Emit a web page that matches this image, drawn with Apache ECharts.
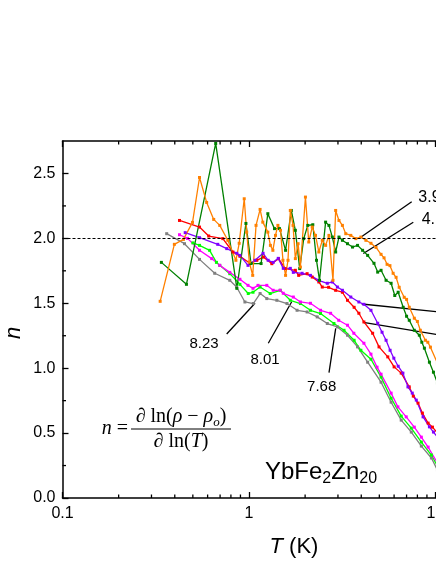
<!DOCTYPE html>
<html>
<head>
<meta charset="utf-8">
<script src="https://cdn.jsdelivr.net/npm/echarts@6/dist/echarts.min.js"></script>
<style>
html, body { margin: 0; padding: 0; background: #fff; }
#chart { width: 436px; height: 564px; }
</style>
</head>
<body>
<div id="chart"></div>
<script>
// temperature T (K) and exponent n, one pair of arrays per curve
var tOrange = [0.334,0.398,0.445,0.498,0.543,0.593,0.647,0.697,0.770,0.851,0.886,0.943,0.972,1.004,1.047,1.091,1.147,1.186,1.262,1.303,1.343,1.387,1.429,1.476,1.521,1.571,1.619,1.666,1.723,1.773,1.834,1.887,2.008,2.092,2.183,2.274,2.369,2.472,2.576,2.684,2.821,2.916,3.038,3.170,3.303,3.515,3.741,3.981,4.236,4.509,4.800,5.107,5.300,5.502,5.700,5.929,6.150,6.389,6.798,7.000,7.236,7.701,8.000,8.297,8.831,9.100,9.397,10.25];
var nOrange = [1.515,1.954,1.992,2.123,2.469,2.277,2.146,2.100,1.985,1.831,1.962,2.305,2.048,1.818,1.715,2.100,2.223,2.125,2.048,1.946,1.908,2.023,2.100,2.062,1.831,1.715,1.831,2.215,2.100,1.844,1.959,1.779,2.318,1.972,2.087,2.023,1.895,1.985,1.946,2.023,1.677,2.215,2.138,2.100,2.036,2.023,1.998,2.010,1.985,1.962,1.930,1.877,1.850,1.800,1.790,1.731,1.700,1.623,1.546,1.530,1.469,1.385,1.360,1.292,1.215,1.200,1.162,1.038];

var tGreen = [0.339,0.462,0.663,0.861,0.963,1.025,1.161,1.262,1.370,1.458,1.571,1.687,1.773,1.870,1.966,2.066,2.199,2.302,2.389,2.576,2.684,2.799,2.916,3.038,3.170,3.374,3.591,3.821,4.067,4.328,4.681,4.900,5.107,5.434,5.783,6.050,6.310,6.714,7.000,7.236,7.701,8.195,8.450,8.722,9.281,9.754,10.25];
var nGreen = [1.815,1.646,2.731,1.615,2.115,1.806,1.806,2.190,2.075,2.075,1.908,2.215,2.062,1.767,1.998,2.100,2.105,1.831,1.677,2.125,2.100,2.010,1.895,2.010,1.985,1.959,1.933,1.946,1.908,1.869,1.808,1.740,1.754,1.677,1.654,1.560,1.585,1.469,1.400,1.369,1.292,1.254,1.200,1.154,1.046,0.969,0.885];

var tPurple = [0.455,0.543,0.680,0.760,0.861,0.894,0.988,1.077,1.190,1.267,1.348,1.435,1.527,1.666,1.729,1.927,2.136,2.360,2.630,2.799,2.980,3.170,3.515,3.884,4.133,4.509,4.901,5.171,5.434,5.711,5.981,6.310,6.689,7.119,7.509,7.892,8.582,9.281,9.754,10.25];
var nPurple = [2.044,2.005,1.954,1.921,1.885,1.869,1.792,1.831,1.885,1.831,1.815,1.846,1.769,1.769,1.738,1.731,1.715,1.677,1.654,1.664,1.625,1.600,1.548,1.510,1.492,1.446,1.346,1.277,1.215,1.138,1.077,1.015,0.962,0.856,0.808,0.754,0.625,0.548,0.508,0.469];

var tRed = [0.424,0.543,0.608,0.724,0.820,0.894,1.012,1.101,1.195,1.326,1.440,1.565,1.773,1.847,2.050,2.183,2.369,2.472,2.673,2.916,3.170,3.374,3.663,3.884,4.133,4.604,4.981,5.550,6.003,6.551,7.236,7.606,8.064,8.507,9.131,9.634,10.25];
var nRed = [2.138,2.087,2.018,1.998,1.895,1.862,1.808,1.831,1.856,1.805,1.844,1.767,1.754,1.715,1.728,1.702,1.664,1.625,1.623,1.600,1.585,1.523,1.469,1.423,1.356,1.269,1.164,1.087,1.010,0.962,0.856,0.785,0.731,0.654,0.577,0.546,0.500];

var tMagenta = [0.424,0.468,0.543,0.631,0.697,0.789,0.894,0.988,1.051,1.118,1.246,1.348,1.470,1.527,1.729,1.887,2.136,2.420,2.740,3.028,3.374,3.650,4.133,4.509,4.859,5.107,5.783,6.287,6.969,7.700,8.400,9.131,10.25];
var nMagenta = [2.028,2.000,1.908,1.844,1.792,1.738,1.685,1.638,1.615,1.638,1.638,1.600,1.600,1.577,1.548,1.510,1.500,1.446,1.423,1.369,1.331,1.269,1.192,1.108,1.008,0.954,0.808,0.702,0.625,0.546,0.469,0.392,0.269];

var tLime = [0.500,0.543,0.615,0.669,0.697,0.789,0.894,0.991,1.051,1.147,1.299,1.470,1.666,1.887,2.136,2.420,2.855,3.233,3.663,3.981,4.509,5.107,5.783,6.551,7.420,8.400,9.510,10.25];
var nLime = [1.965,1.946,1.908,1.815,1.792,1.728,1.646,1.575,1.585,1.625,1.575,1.600,1.523,1.498,1.446,1.421,1.344,1.292,1.215,1.138,1.069,0.931,0.769,0.631,0.538,0.431,0.331,0.246];

var tGray = [0.362,0.451,0.543,0.655,0.789,0.858,0.951,1.055,1.147,1.246,1.411,1.599,1.811,2.050,2.322,2.630,2.980,3.374,3.821,4.328,5.107,5.783,6.551,7.420,8.400,9.510,10.25];
var nGray = [2.036,1.959,1.838,1.731,1.677,1.625,1.510,1.498,1.575,1.536,1.523,1.498,1.446,1.433,1.395,1.344,1.318,1.254,1.164,1.046,0.892,0.738,0.600,0.508,0.400,0.308,0.215];

var xMinorTicks = [0.2,0.3,0.4,0.5,0.6,0.7,0.8,0.9,2,3,4,5,6,7,8,9];
var yMinorTicks = [0.25,0.75,1.25,1.75,2.25];
var refLevel = 2;
var curveLabels = ['3.96', '4.16', '8.23', '8.01', '7.68'];

var SANS = 'Liberation Sans, Arial, sans-serif';
var SERIF = 'Liberation Serif, Times New Roman, serif';

function pairs(t, n) {
  return t.map(function (v, i) { return [v, n[i]]; });
}

function curve(name, color, t, n) {
  return {
    name: name,
    type: 'line',
    data: pairs(t, n),
    symbol: 'rect',
    symbolSize: 3,
    showSymbol: true,
    lineStyle: { color: color, width: 1.3 },
    itemStyle: { color: color },
    clip: true,
    silent: true
  };
}

function tickLine(x1, y1, x2, y2) {
  return { type: 'line', shape: { x1: x1, y1: y1, x2: x2, y2: y2 }, style: { stroke: '#000', lineWidth: 1.3 } };
}

var series = [
  curve('gray', '#808080', tGray, nGray),
  curve('lime', '#00FF00', tLime, nLime),
  curve('magenta', '#FF00FF', tMagenta, nMagenta),
  curve('red', '#FF0000', tRed, nRed),
  curve('purple', '#8000FF', tPurple, nPurple),
  curve('green', '#008000', tGreen, nGreen),
  curve('orange', '#FF8000', tOrange, nOrange),
  {
    // log minor ticks on bottom and top axes
    type: 'custom',
    silent: true,
    data: xMinorTicks.map(function (v) { return [v, 1]; }),
    renderItem: function (params, api) {
      var cs = params.coordSys;
      var x = api.coord([api.value(0), 1])[0];
      return { type: 'group', children: [
        tickLine(x, cs.y + cs.height, x, cs.y + cs.height - 3.5),
        tickLine(x, cs.y, x, cs.y + 3.5)
      ] };
    }
  },
  {
    // minor ticks on the n axis
    type: 'custom',
    silent: true,
    data: yMinorTicks.map(function (v) { return [1, v]; }),
    renderItem: function (params, api) {
      var cs = params.coordSys;
      var y = api.coord([1, api.value(1)])[1];
      return tickLine(cs.x, y, cs.x + 3.5, y);
    }
  }
];

// dashed n = 2 reference line
series[0].markLine = {
  silent: true,
  symbol: 'none',
  label: { show: false },
  lineStyle: { color: '#000', type: [3, 2], width: 1 },
  data: [{ yAxis: refLevel }]
};

var axisCommon = {
  type: 'log',
  logBase: 10,
  min: 0.1,
  max: 20,
  axisLine: { show: true, lineStyle: { color: '#000', width: 1.5 } },
  axisTick: { show: true, inside: true, length: 6, lineStyle: { color: '#000', width: 1.3 } },
  splitLine: { show: false }
};

var option = {
  animation: false,
  backgroundColor: '#fff',
  grid: { left: 62.5, top: 141, bottom: 66, right: -55.6, containLabel: false, outerBoundsMode: 'none' },
  xAxis: [
    Object.assign({}, axisCommon, {
      position: 'bottom',
      axisLabel: {
        color: '#000', fontSize: 16, fontFamily: SANS, margin: 8,
        formatter: function (v) { return String(+v.toPrecision(3)); }
      }
    }),
    Object.assign({}, axisCommon, {
      position: 'top',
      axisLabel: { show: false }
    })
  ],
  yAxis: {
    type: 'value',
    min: 0,
    max: 2.75,
    interval: 0.5,
    axisLine: { show: true, lineStyle: { color: '#000', width: 1.5 } },
    axisTick: { show: true, inside: true, length: 6, lineStyle: { color: '#000', width: 1.3 } },
    splitLine: { show: false },
    axisLabel: {
      color: '#000', fontSize: 16, fontFamily: SANS, margin: 7, showMaxLabel: false,
      formatter: function (v) {
        return Math.abs(v / 0.5 - Math.round(v / 0.5)) > 1e-6 ? '' : v.toFixed(1);
      }
    }
  },
  series: series,
  graphic: [
    // axis titles
    { type: 'text', x: 13.5, y: 333, rotation: Math.PI / 2,
      style: { text: 'n', fontSize: 22, fontStyle: 'italic', fontFamily: SANS, fill: '#000', align: 'center', verticalAlign: 'middle' } },
    { type: 'text', x: 294, y: 547,
      style: { text: '{i|T} (K)', fontSize: 22, fontFamily: SANS, fill: '#000', align: 'center', verticalAlign: 'middle',
        rich: { i: { fontSize: 22, fontStyle: 'italic', fontFamily: SANS } } } },

    // curve labels and leader lines
    { type: 'text', x: 418.3, y: 198, style: { text: curveLabels[0], fontSize: 16, fontFamily: SANS, fill: '#000', align: 'left', verticalAlign: 'middle' } },
    { type: 'text', x: 421.7, y: 219.5, style: { text: curveLabels[1], fontSize: 16, fontFamily: SANS, fill: '#000', align: 'left', verticalAlign: 'middle' } },
    { type: 'text', x: 204, y: 344, style: { text: curveLabels[2], fontSize: 15, fontFamily: SANS, fill: '#000', align: 'center', verticalAlign: 'middle' } },
    { type: 'text', x: 265, y: 359.7, style: { text: curveLabels[3], fontSize: 15, fontFamily: SANS, fill: '#000', align: 'center', verticalAlign: 'middle' } },
    { type: 'text', x: 321.7, y: 386.7, style: { text: curveLabels[4], fontSize: 15, fontFamily: SANS, fill: '#000', align: 'center', verticalAlign: 'middle' } },
    { type: 'line', shape: { x1: 411.7, y1: 201.7, x2: 359.3, y2: 238.3 }, style: { stroke: '#000', lineWidth: 1.3 } },
    { type: 'line', shape: { x1: 413.3, y1: 222.2, x2: 363.3, y2: 253.5 }, style: { stroke: '#000', lineWidth: 1.3 } },
    { type: 'line', shape: { x1: 361.7, y1: 304, x2: 500, y2: 318.3 }, style: { stroke: '#000', lineWidth: 1.3 } },
    { type: 'line', shape: { x1: 363.3, y1: 322.3, x2: 500, y2: 345 }, style: { stroke: '#000', lineWidth: 1.3 } },
    { type: 'line', shape: { x1: 226.7, y1: 334, x2: 255, y2: 303.3 }, style: { stroke: '#000', lineWidth: 1.3 } },
    { type: 'line', shape: { x1: 268.3, y1: 343.3, x2: 291.7, y2: 301.7 }, style: { stroke: '#000', lineWidth: 1.3 } },
    { type: 'line', shape: { x1: 329, y1: 372.7, x2: 335.7, y2: 328.3 }, style: { stroke: '#000', lineWidth: 1.3 } },

    // formula
    { type: 'text', x: 128, y: 429,
      style: { text: '{i|n} =', fontSize: 20, fontFamily: SERIF, fill: '#000', align: 'right', verticalAlign: 'middle',
        rich: { i: { fontSize: 20, fontStyle: 'italic', fontFamily: SERIF } } } },
    { type: 'text', x: 181, y: 417,
      style: { text: '{i|∂} ln({i|ρ} − {i|ρ}{s|o})', fontSize: 20, lineHeight: 24, fontFamily: SERIF, fill: '#000', align: 'center', verticalAlign: 'middle',
        rich: {
          i: { fontSize: 20, lineHeight: 24, fontStyle: 'italic', fontFamily: SERIF },
          s: { fontSize: 13, lineHeight: 13, fontStyle: 'italic', fontFamily: SERIF, verticalAlign: 'bottom' }
        } } },
    { type: 'line', shape: { x1: 131, y1: 429, x2: 231, y2: 429 }, style: { stroke: '#000', lineWidth: 1 } },
    { type: 'text', x: 181, y: 442,
      style: { text: '{i|∂} ln({i|T})', fontSize: 20, fontFamily: SERIF, fill: '#000', align: 'center', verticalAlign: 'middle',
        rich: { i: { fontSize: 20, fontStyle: 'italic', fontFamily: SERIF } } } },

    // compound
    { type: 'text', x: 265, y: 472,
      style: { text: 'YbFe{s|2}Zn{s|20}', fontSize: 24, lineHeight: 30, fontFamily: SANS, fill: '#000', align: 'left', verticalAlign: 'middle',
        rich: { s: { fontSize: 16, lineHeight: 16, fontFamily: SANS, verticalAlign: 'bottom' } } } }
  ]
};

var chart = echarts.init(document.getElementById('chart'));
chart.setOption(option);
</script>
</body>
</html>
